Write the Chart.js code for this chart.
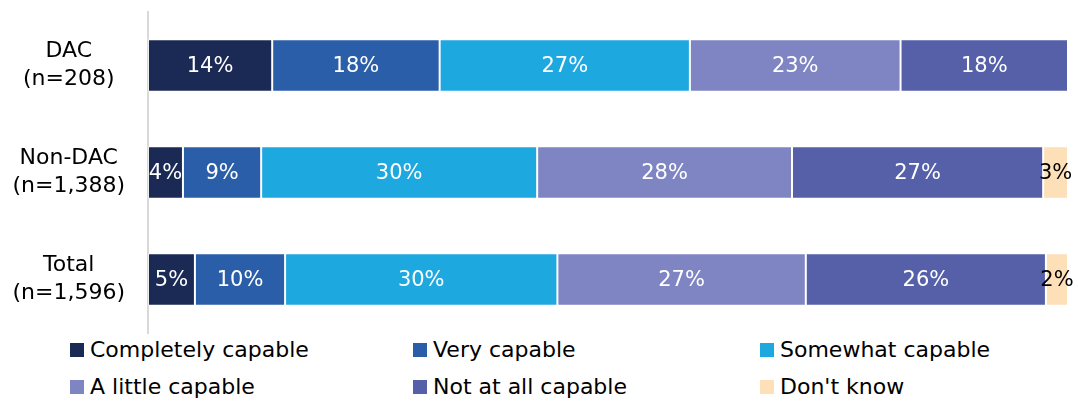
<!DOCTYPE html>
<html>
<head>
<meta charset="utf-8">
<script src="https://cdn.jsdelivr.net/npm/chart.js@4"></script>
<style>
  body { margin: 0; background: #fff; font-family: "DejaVu Sans", sans-serif; }
  #wrap { position: relative; width: 1078px; height: 401px; }
  #chartBox { position: absolute; left: 0; top: 0; width: 1078px; height: 335px; }
  .leg { position: absolute; font-size: 22px; color: #000; line-height: 26px; white-space: nowrap; }
  .leg span { position: absolute; left: -20px; top: 6px; width: 14px; height: 14px; }
</style>
</head>
<body>
<div id="wrap">
  <div id="chartBox"><canvas id="chart"></canvas></div>
  <div id="legend"></div>
</div>
<script>
const categories = [["DAC", "(n=208)"], ["Non-DAC", "(n=1,388)"], ["Total", "(n=1,596)"]];
const seriesNames = ["Completely capable", "Very capable", "Somewhat capable", "A little capable", "Not at all capable", "Don't know"];
const completely = [13.5, 3.8, 5.1];
const very = [18.2, 8.5, 9.8];
const somewhat = [27.2, 30.0, 29.6];
const little = [22.9, 27.7, 27.0];
const notAtAll = [18.2, 27.3, 26.1];
const dontKnow = [0, 2.7, 2.4];
const colors = ["#1b2a55", "#2a5ea8", "#1ea8e0", "#7f84c2", "#5560a8", "#fddfb8"];
const labelColors = ["#fff", "#fff", "#fff", "#fff", "#fff", "#000"];

const allSeries = [completely, very, somewhat, little, notAtAll, dontKnow];

// html legend, 3 columns x 2 rows
const legendPos = [[90, 337], [433, 337], [780, 337], [90, 374], [433, 374], [780, 374]];
const legendEl = document.getElementById("legend");
seriesNames.forEach((name, i) => {
  const d = document.createElement("div");
  d.className = "leg";
  d.style.left = legendPos[i][0] + "px";
  d.style.top = legendPos[i][1] + "px";
  d.innerHTML = `<span style="background:${colors[i]}"></span>${name}`;
  legendEl.appendChild(d);
});

// value labels in the middle of each segment
const segLabels = {
  id: "segLabels",
  afterDatasetsDraw(chart) {
    const ctx = chart.ctx;
    ctx.save();
    ctx.font = '21px "DejaVu Sans", sans-serif';
    ctx.textAlign = "center";
    ctx.textBaseline = "middle";
    chart.data.datasets.forEach((ds, i) => {
      const meta = chart.getDatasetMeta(i);
      meta.data.forEach((el, j) => {
        const v = ds.data[j];
        if (!v) return;
        const p = el.getCenterPoint();
        ctx.fillStyle = labelColors[i];
        ctx.fillText(Math.round(v) + "%", p.x, p.y + 1);
      });
    });
    ctx.restore();
  }
};

new Chart(document.getElementById("chart"), {
  type: "bar",
  data: {
    labels: categories,
    datasets: allSeries.map((d, i) => ({
      label: seriesNames[i],
      data: d,
      backgroundColor: colors[i],
      borderColor: "rgba(255,255,255,0.55)",
      borderWidth: 1,
      borderSkipped: false,
      categoryPercentage: 1,
      barPercentage: 0.49
    }))
  },
  options: {
    indexAxis: "y",
    responsive: true,
    maintainAspectRatio: false,
    animation: false,
    layout: { padding: { top: 12, right: 10, bottom: 2, left: 0 } },
    plugins: { legend: { display: false }, tooltip: { enabled: false } },
    scales: {
      x: { stacked: true, display: false, min: 0, max: 100 },
      y: {
        stacked: true,
        afterFit(scale) {
          scale.width = 148;
          scale.paddingTop = 0;
          scale.paddingBottom = 0;
        },
        grid: { display: false, drawTicks: false },
        border: { display: true, color: "#d9d9d9", width: 2 },
        ticks: {
          color: "#000",
          padding: 23,
          crossAlign: "center",
          font: { size: 22, family: '"DejaVu Sans", sans-serif', lineHeight: 1.27 }
        }
      }
    }
  },
  plugins: [segLabels]
});
</script>
</body>
</html>
